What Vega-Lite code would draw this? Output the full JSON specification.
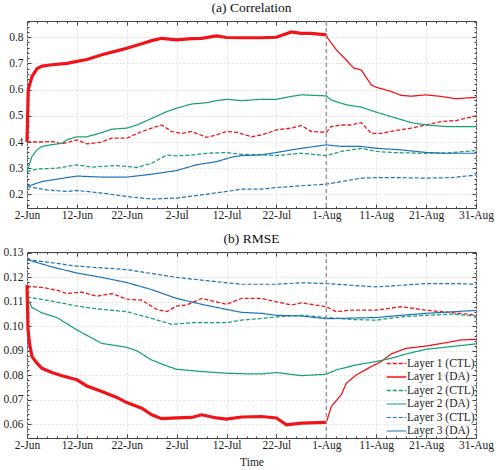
{
"$schema": "https://vega.github.io/schema/vega-lite/v6.json",
"padding": {"left": 2, "top": 0, "right": 4, "bottom": 0},
"spacing": 8,
"config": {
  "font": "Liberation Serif",
  "view": {"stroke": "#444", "strokeWidth": 1},
  "axis": {"labelFont": "Liberation Serif", "labelFontSize": 11.5, "labelColor": "#222", "titleFont": "Liberation Serif", "titleFontSize": 11.5, "titleFontWeight": "normal", "titleColor": "#222", "domain": false, "tickColor": "#444", "labelOverlap": false, "labelFlush": false, "gridColor": "#d9d9d9", "gridDash": [2, 2], "gridWidth": 0.8},
  "axisX": {"labelPadding": 5},
  "axisY": {"labelPadding": 8},
  "title": {"font": "Liberation Serif", "fontSize": 13.5, "fontWeight": "normal", "color": "#111", "offset": 1}
},
"datasets": {
"corr": [
{"series":"Layer 1 (DA)","date":"2023-06-02T00:00","value":0.40},
{"series":"Layer 1 (DA)","date":"2023-06-02T06:00","value":0.60},
{"series":"Layer 1 (DA)","date":"2023-06-03T00:00","value":0.65},
{"series":"Layer 1 (DA)","date":"2023-06-04T00:00","value":0.68},
{"series":"Layer 1 (DA)","date":"2023-06-05T00:00","value":0.69},
{"series":"Layer 1 (DA)","date":"2023-06-07T00:00","value":0.695},
{"series":"Layer 1 (DA)","date":"2023-06-10T00:00","value":0.70},
{"series":"Layer 1 (DA)","date":"2023-06-12T00:00","value":0.708},
{"series":"Layer 1 (DA)","date":"2023-06-14T00:00","value":0.715},
{"series":"Layer 1 (DA)","date":"2023-06-17T00:00","value":0.733},
{"series":"Layer 1 (DA)","date":"2023-06-20T00:00","value":0.748},
{"series":"Layer 1 (DA)","date":"2023-06-22T00:00","value":0.758},
{"series":"Layer 1 (DA)","date":"2023-06-25T00:00","value":0.775},
{"series":"Layer 1 (DA)","date":"2023-06-27T00:00","value":0.787},
{"series":"Layer 1 (DA)","date":"2023-06-29T00:00","value":0.796},
{"series":"Layer 1 (DA)","date":"2023-07-02T00:00","value":0.79},
{"series":"Layer 1 (DA)","date":"2023-07-05T00:00","value":0.795},
{"series":"Layer 1 (DA)","date":"2023-07-07T00:00","value":0.796},
{"series":"Layer 1 (DA)","date":"2023-07-10T00:00","value":0.805},
{"series":"Layer 1 (DA)","date":"2023-07-12T00:00","value":0.799},
{"series":"Layer 1 (DA)","date":"2023-07-15T00:00","value":0.798},
{"series":"Layer 1 (DA)","date":"2023-07-19T00:00","value":0.798},
{"series":"Layer 1 (DA)","date":"2023-07-22T00:00","value":0.80},
{"series":"Layer 1 (DA)","date":"2023-07-25T00:00","value":0.82},
{"series":"Layer 1 (DA)","date":"2023-07-27T00:00","value":0.815},
{"series":"Layer 1 (DA)","date":"2023-07-29T00:00","value":0.815},
{"series":"Layer 1 (DA)","date":"2023-08-01T00:00","value":0.809},
{"series":"Layer 1 (DA)","date":"2023-08-01T08:00","value":0.795},
{"series":"Layer 1 (DA)","date":"2023-08-03T00:00","value":0.752},
{"series":"Layer 1 (DA)","date":"2023-08-05T00:00","value":0.713},
{"series":"Layer 1 (DA)","date":"2023-08-06T12:00","value":0.682},
{"series":"Layer 1 (DA)","date":"2023-08-08T00:00","value":0.675},
{"series":"Layer 1 (DA)","date":"2023-08-10T00:00","value":0.618},
{"series":"Layer 1 (DA)","date":"2023-08-11T00:00","value":0.609},
{"series":"Layer 1 (DA)","date":"2023-08-14T00:00","value":0.593},
{"series":"Layer 1 (DA)","date":"2023-08-16T00:00","value":0.578},
{"series":"Layer 1 (DA)","date":"2023-08-18T00:00","value":0.575},
{"series":"Layer 1 (DA)","date":"2023-08-21T00:00","value":0.58},
{"series":"Layer 1 (DA)","date":"2023-08-24T00:00","value":0.574},
{"series":"Layer 1 (DA)","date":"2023-08-27T00:00","value":0.565},
{"series":"Layer 1 (DA)","date":"2023-08-29T00:00","value":0.568},
{"series":"Layer 1 (DA)","date":"2023-08-31T00:00","value":0.57},
{"series":"Layer 1 (CTL)","date":"2023-06-02T00:00","value":0.40},
{"series":"Layer 1 (CTL)","date":"2023-06-05T00:00","value":0.40},
{"series":"Layer 1 (CTL)","date":"2023-06-07T00:00","value":0.402},
{"series":"Layer 1 (CTL)","date":"2023-06-09T00:00","value":0.393},
{"series":"Layer 1 (CTL)","date":"2023-06-12T00:00","value":0.408},
{"series":"Layer 1 (CTL)","date":"2023-06-14T00:00","value":0.393},
{"series":"Layer 1 (CTL)","date":"2023-06-17T00:00","value":0.40},
{"series":"Layer 1 (CTL)","date":"2023-06-19T00:00","value":0.415},
{"series":"Layer 1 (CTL)","date":"2023-06-22T00:00","value":0.415},
{"series":"Layer 1 (CTL)","date":"2023-06-25T00:00","value":0.44},
{"series":"Layer 1 (CTL)","date":"2023-06-27T00:00","value":0.453},
{"series":"Layer 1 (CTL)","date":"2023-06-29T00:00","value":0.465},
{"series":"Layer 1 (CTL)","date":"2023-07-01T00:00","value":0.44},
{"series":"Layer 1 (CTL)","date":"2023-07-03T00:00","value":0.433},
{"series":"Layer 1 (CTL)","date":"2023-07-05T00:00","value":0.44},
{"series":"Layer 1 (CTL)","date":"2023-07-08T00:00","value":0.418},
{"series":"Layer 1 (CTL)","date":"2023-07-10T00:00","value":0.427},
{"series":"Layer 1 (CTL)","date":"2023-07-12T00:00","value":0.44},
{"series":"Layer 1 (CTL)","date":"2023-07-14T00:00","value":0.437},
{"series":"Layer 1 (CTL)","date":"2023-07-17T00:00","value":0.42},
{"series":"Layer 1 (CTL)","date":"2023-07-19T00:00","value":0.427},
{"series":"Layer 1 (CTL)","date":"2023-07-22T00:00","value":0.446},
{"series":"Layer 1 (CTL)","date":"2023-07-25T00:00","value":0.453},
{"series":"Layer 1 (CTL)","date":"2023-07-27T00:00","value":0.463},
{"series":"Layer 1 (CTL)","date":"2023-07-29T00:00","value":0.44},
{"series":"Layer 1 (CTL)","date":"2023-08-01T00:00","value":0.437},
{"series":"Layer 1 (CTL)","date":"2023-08-02T00:00","value":0.459},
{"series":"Layer 1 (CTL)","date":"2023-08-04T00:00","value":0.465},
{"series":"Layer 1 (CTL)","date":"2023-08-06T00:00","value":0.465},
{"series":"Layer 1 (CTL)","date":"2023-08-08T00:00","value":0.474},
{"series":"Layer 1 (CTL)","date":"2023-08-09T00:00","value":0.453},
{"series":"Layer 1 (CTL)","date":"2023-08-10T00:00","value":0.433},
{"series":"Layer 1 (CTL)","date":"2023-08-12T00:00","value":0.433},
{"series":"Layer 1 (CTL)","date":"2023-08-15T00:00","value":0.444},
{"series":"Layer 1 (CTL)","date":"2023-08-18T00:00","value":0.453},
{"series":"Layer 1 (CTL)","date":"2023-08-21T00:00","value":0.465},
{"series":"Layer 1 (CTL)","date":"2023-08-24T00:00","value":0.478},
{"series":"Layer 1 (CTL)","date":"2023-08-27T00:00","value":0.482},
{"series":"Layer 1 (CTL)","date":"2023-08-31T00:00","value":0.50},
{"series":"Layer 2 (DA)","date":"2023-06-02T00:00","value":0.287},
{"series":"Layer 2 (DA)","date":"2023-06-03T00:00","value":0.345},
{"series":"Layer 2 (DA)","date":"2023-06-04T00:00","value":0.37},
{"series":"Layer 2 (DA)","date":"2023-06-05T00:00","value":0.383},
{"series":"Layer 2 (DA)","date":"2023-06-07T00:00","value":0.39},
{"series":"Layer 2 (DA)","date":"2023-06-09T00:00","value":0.395},
{"series":"Layer 2 (DA)","date":"2023-06-10T00:00","value":0.408},
{"series":"Layer 2 (DA)","date":"2023-06-12T00:00","value":0.42},
{"series":"Layer 2 (DA)","date":"2023-06-14T00:00","value":0.42},
{"series":"Layer 2 (DA)","date":"2023-06-17T00:00","value":0.436},
{"series":"Layer 2 (DA)","date":"2023-06-19T00:00","value":0.449},
{"series":"Layer 2 (DA)","date":"2023-06-22T00:00","value":0.453},
{"series":"Layer 2 (DA)","date":"2023-06-24T00:00","value":0.465},
{"series":"Layer 2 (DA)","date":"2023-06-27T00:00","value":0.49},
{"series":"Layer 2 (DA)","date":"2023-06-30T00:00","value":0.516},
{"series":"Layer 2 (DA)","date":"2023-07-02T00:00","value":0.529},
{"series":"Layer 2 (DA)","date":"2023-07-05T00:00","value":0.545},
{"series":"Layer 2 (DA)","date":"2023-07-08T00:00","value":0.55},
{"series":"Layer 2 (DA)","date":"2023-07-10T00:00","value":0.558},
{"series":"Layer 2 (DA)","date":"2023-07-12T00:00","value":0.563},
{"series":"Layer 2 (DA)","date":"2023-07-15T00:00","value":0.558},
{"series":"Layer 2 (DA)","date":"2023-07-19T00:00","value":0.563},
{"series":"Layer 2 (DA)","date":"2023-07-22T00:00","value":0.563},
{"series":"Layer 2 (DA)","date":"2023-07-25T00:00","value":0.574},
{"series":"Layer 2 (DA)","date":"2023-07-27T00:00","value":0.58},
{"series":"Layer 2 (DA)","date":"2023-08-01T00:00","value":0.576},
{"series":"Layer 2 (DA)","date":"2023-08-02T00:00","value":0.56},
{"series":"Layer 2 (DA)","date":"2023-08-05T00:00","value":0.542},
{"series":"Layer 2 (DA)","date":"2023-08-08T00:00","value":0.533},
{"series":"Layer 2 (DA)","date":"2023-08-11T00:00","value":0.514},
{"series":"Layer 2 (DA)","date":"2023-08-14T00:00","value":0.497},
{"series":"Layer 2 (DA)","date":"2023-08-18T00:00","value":0.474},
{"series":"Layer 2 (DA)","date":"2023-08-21T00:00","value":0.465},
{"series":"Layer 2 (DA)","date":"2023-08-25T00:00","value":0.459},
{"series":"Layer 2 (DA)","date":"2023-08-31T00:00","value":0.459},
{"series":"Layer 2 (CTL)","date":"2023-06-02T00:00","value":0.287},
{"series":"Layer 2 (CTL)","date":"2023-06-04T00:00","value":0.297},
{"series":"Layer 2 (CTL)","date":"2023-06-08T00:00","value":0.30},
{"series":"Layer 2 (CTL)","date":"2023-06-12T00:00","value":0.313},
{"series":"Layer 2 (CTL)","date":"2023-06-15T00:00","value":0.304},
{"series":"Layer 2 (CTL)","date":"2023-06-20T00:00","value":0.31},
{"series":"Layer 2 (CTL)","date":"2023-06-24T00:00","value":0.303},
{"series":"Layer 2 (CTL)","date":"2023-06-27T00:00","value":0.319},
{"series":"Layer 2 (CTL)","date":"2023-06-30T00:00","value":0.35},
{"series":"Layer 2 (CTL)","date":"2023-07-02T00:00","value":0.347},
{"series":"Layer 2 (CTL)","date":"2023-07-05T00:00","value":0.35},
{"series":"Layer 2 (CTL)","date":"2023-07-08T00:00","value":0.357},
{"series":"Layer 2 (CTL)","date":"2023-07-12T00:00","value":0.36},
{"series":"Layer 2 (CTL)","date":"2023-07-15T00:00","value":0.353},
{"series":"Layer 2 (CTL)","date":"2023-07-19T00:00","value":0.351},
{"series":"Layer 2 (CTL)","date":"2023-07-22T00:00","value":0.348},
{"series":"Layer 2 (CTL)","date":"2023-07-27T00:00","value":0.357},
{"series":"Layer 2 (CTL)","date":"2023-08-01T00:00","value":0.348},
{"series":"Layer 2 (CTL)","date":"2023-08-04T00:00","value":0.364},
{"series":"Layer 2 (CTL)","date":"2023-08-08T00:00","value":0.376},
{"series":"Layer 2 (CTL)","date":"2023-08-11T00:00","value":0.364},
{"series":"Layer 2 (CTL)","date":"2023-08-14T00:00","value":0.36},
{"series":"Layer 2 (CTL)","date":"2023-08-21T00:00","value":0.357},
{"series":"Layer 2 (CTL)","date":"2023-08-25T00:00","value":0.358},
{"series":"Layer 2 (CTL)","date":"2023-08-31T00:00","value":0.367},
{"series":"Layer 3 (DA)","date":"2023-06-02T00:00","value":0.23},
{"series":"Layer 3 (DA)","date":"2023-06-05T00:00","value":0.249},
{"series":"Layer 3 (DA)","date":"2023-06-08T00:00","value":0.258},
{"series":"Layer 3 (DA)","date":"2023-06-12T00:00","value":0.27},
{"series":"Layer 3 (DA)","date":"2023-06-17T00:00","value":0.266},
{"series":"Layer 3 (DA)","date":"2023-06-22T00:00","value":0.266},
{"series":"Layer 3 (DA)","date":"2023-06-27T00:00","value":0.277},
{"series":"Layer 3 (DA)","date":"2023-07-02T00:00","value":0.291},
{"series":"Layer 3 (DA)","date":"2023-07-06T00:00","value":0.313},
{"series":"Layer 3 (DA)","date":"2023-07-10T00:00","value":0.325},
{"series":"Layer 3 (DA)","date":"2023-07-13T00:00","value":0.342},
{"series":"Layer 3 (DA)","date":"2023-07-15T00:00","value":0.348},
{"series":"Layer 3 (DA)","date":"2023-07-19T00:00","value":0.351},
{"series":"Layer 3 (DA)","date":"2023-07-22T00:00","value":0.36},
{"series":"Layer 3 (DA)","date":"2023-07-27T00:00","value":0.376},
{"series":"Layer 3 (DA)","date":"2023-08-01T00:00","value":0.389},
{"series":"Layer 3 (DA)","date":"2023-08-04T00:00","value":0.383},
{"series":"Layer 3 (DA)","date":"2023-08-08T00:00","value":0.383},
{"series":"Layer 3 (DA)","date":"2023-08-11T00:00","value":0.376},
{"series":"Layer 3 (DA)","date":"2023-08-16T00:00","value":0.37},
{"series":"Layer 3 (DA)","date":"2023-08-21T00:00","value":0.36},
{"series":"Layer 3 (DA)","date":"2023-08-25T00:00","value":0.357},
{"series":"Layer 3 (DA)","date":"2023-08-31T00:00","value":0.357},
{"series":"Layer 3 (CTL)","date":"2023-06-02T00:00","value":0.23},
{"series":"Layer 3 (CTL)","date":"2023-06-06T00:00","value":0.217},
{"series":"Layer 3 (CTL)","date":"2023-06-10T00:00","value":0.211},
{"series":"Layer 3 (CTL)","date":"2023-06-12T00:00","value":0.215},
{"series":"Layer 3 (CTL)","date":"2023-06-17T00:00","value":0.205},
{"series":"Layer 3 (CTL)","date":"2023-06-22T00:00","value":0.192},
{"series":"Layer 3 (CTL)","date":"2023-06-27T00:00","value":0.182},
{"series":"Layer 3 (CTL)","date":"2023-07-02T00:00","value":0.186},
{"series":"Layer 3 (CTL)","date":"2023-07-07T00:00","value":0.198},
{"series":"Layer 3 (CTL)","date":"2023-07-12T00:00","value":0.211},
{"series":"Layer 3 (CTL)","date":"2023-07-15T00:00","value":0.22},
{"series":"Layer 3 (CTL)","date":"2023-07-19T00:00","value":0.22},
{"series":"Layer 3 (CTL)","date":"2023-07-22T00:00","value":0.226},
{"series":"Layer 3 (CTL)","date":"2023-07-27T00:00","value":0.233},
{"series":"Layer 3 (CTL)","date":"2023-08-01T00:00","value":0.239},
{"series":"Layer 3 (CTL)","date":"2023-08-04T00:00","value":0.249},
{"series":"Layer 3 (CTL)","date":"2023-08-08T00:00","value":0.262},
{"series":"Layer 3 (CTL)","date":"2023-08-11T00:00","value":0.264},
{"series":"Layer 3 (CTL)","date":"2023-08-16T00:00","value":0.264},
{"series":"Layer 3 (CTL)","date":"2023-08-21T00:00","value":0.262},
{"series":"Layer 3 (CTL)","date":"2023-08-26T00:00","value":0.264},
{"series":"Layer 3 (CTL)","date":"2023-08-31T00:00","value":0.274}
],
"rmse": [
{"series":"Layer 1 (DA)","date":"2023-06-02T00:00","value":0.1168},
{"series":"Layer 1 (DA)","date":"2023-06-02T05:00","value":0.0985},
{"series":"Layer 1 (DA)","date":"2023-06-02T12:00","value":0.093},
{"series":"Layer 1 (DA)","date":"2023-06-03T00:00","value":0.0876},
{"series":"Layer 1 (DA)","date":"2023-06-04T00:00","value":0.0849},
{"series":"Layer 1 (DA)","date":"2023-06-05T00:00","value":0.0828},
{"series":"Layer 1 (DA)","date":"2023-06-07T00:00","value":0.0811},
{"series":"Layer 1 (DA)","date":"2023-06-09T00:00","value":0.0798},
{"series":"Layer 1 (DA)","date":"2023-06-12T00:00","value":0.0781},
{"series":"Layer 1 (DA)","date":"2023-06-14T00:00","value":0.0756},
{"series":"Layer 1 (DA)","date":"2023-06-17T00:00","value":0.0733},
{"series":"Layer 1 (DA)","date":"2023-06-20T00:00","value":0.0709},
{"series":"Layer 1 (DA)","date":"2023-06-22T00:00","value":0.0688},
{"series":"Layer 1 (DA)","date":"2023-06-25T00:00","value":0.0665},
{"series":"Layer 1 (DA)","date":"2023-06-27T00:00","value":0.0638},
{"series":"Layer 1 (DA)","date":"2023-06-29T00:00","value":0.0622},
{"series":"Layer 1 (DA)","date":"2023-07-02T00:00","value":0.0625},
{"series":"Layer 1 (DA)","date":"2023-07-05T00:00","value":0.0627},
{"series":"Layer 1 (DA)","date":"2023-07-07T00:00","value":0.0638},
{"series":"Layer 1 (DA)","date":"2023-07-10T00:00","value":0.0625},
{"series":"Layer 1 (DA)","date":"2023-07-12T00:00","value":0.0620},
{"series":"Layer 1 (DA)","date":"2023-07-15T00:00","value":0.0629},
{"series":"Layer 1 (DA)","date":"2023-07-19T00:00","value":0.0631},
{"series":"Layer 1 (DA)","date":"2023-07-22T00:00","value":0.0625},
{"series":"Layer 1 (DA)","date":"2023-07-24T00:00","value":0.0597},
{"series":"Layer 1 (DA)","date":"2023-07-27T00:00","value":0.0604},
{"series":"Layer 1 (DA)","date":"2023-08-01T00:00","value":0.0607},
{"series":"Layer 1 (DA)","date":"2023-08-02T00:00","value":0.0672},
{"series":"Layer 1 (DA)","date":"2023-08-04T00:00","value":0.072},
{"series":"Layer 1 (DA)","date":"2023-08-05T00:00","value":0.0767},
{"series":"Layer 1 (DA)","date":"2023-08-07T00:00","value":0.0801},
{"series":"Layer 1 (DA)","date":"2023-08-10T00:00","value":0.0835},
{"series":"Layer 1 (DA)","date":"2023-08-12T00:00","value":0.0856},
{"series":"Layer 1 (DA)","date":"2023-08-14T00:00","value":0.0887},
{"series":"Layer 1 (DA)","date":"2023-08-17T00:00","value":0.091},
{"series":"Layer 1 (DA)","date":"2023-08-21T00:00","value":0.0919},
{"series":"Layer 1 (DA)","date":"2023-08-25T00:00","value":0.0933},
{"series":"Layer 1 (DA)","date":"2023-08-28T00:00","value":0.0944},
{"series":"Layer 1 (DA)","date":"2023-08-31T00:00","value":0.0947},
{"series":"Layer 1 (CTL)","date":"2023-06-02T00:00","value":0.1164},
{"series":"Layer 1 (CTL)","date":"2023-06-05T00:00","value":0.1159},
{"series":"Layer 1 (CTL)","date":"2023-06-08T00:00","value":0.1148},
{"series":"Layer 1 (CTL)","date":"2023-06-10T00:00","value":0.1134},
{"series":"Layer 1 (CTL)","date":"2023-06-13T00:00","value":0.114},
{"series":"Layer 1 (CTL)","date":"2023-06-16T00:00","value":0.1123},
{"series":"Layer 1 (CTL)","date":"2023-06-19T00:00","value":0.1134},
{"series":"Layer 1 (CTL)","date":"2023-06-22T00:00","value":0.1111},
{"series":"Layer 1 (CTL)","date":"2023-06-25T00:00","value":0.1107},
{"series":"Layer 1 (CTL)","date":"2023-06-28T00:00","value":0.1069},
{"series":"Layer 1 (CTL)","date":"2023-06-30T00:00","value":0.106},
{"series":"Layer 1 (CTL)","date":"2023-07-02T00:00","value":0.1083},
{"series":"Layer 1 (CTL)","date":"2023-07-04T00:00","value":0.1087},
{"series":"Layer 1 (CTL)","date":"2023-07-07T00:00","value":0.1114},
{"series":"Layer 1 (CTL)","date":"2023-07-10T00:00","value":0.11},
{"series":"Layer 1 (CTL)","date":"2023-07-12T00:00","value":0.109},
{"series":"Layer 1 (CTL)","date":"2023-07-15T00:00","value":0.1114},
{"series":"Layer 1 (CTL)","date":"2023-07-19T00:00","value":0.1114},
{"series":"Layer 1 (CTL)","date":"2023-07-22T00:00","value":0.11},
{"series":"Layer 1 (CTL)","date":"2023-07-25T00:00","value":0.1087},
{"series":"Layer 1 (CTL)","date":"2023-07-27T00:00","value":0.1096},
{"series":"Layer 1 (CTL)","date":"2023-08-01T00:00","value":0.108},
{"series":"Layer 1 (CTL)","date":"2023-08-03T00:00","value":0.106},
{"series":"Layer 1 (CTL)","date":"2023-08-06T00:00","value":0.1066},
{"series":"Layer 1 (CTL)","date":"2023-08-11T00:00","value":0.1066},
{"series":"Layer 1 (CTL)","date":"2023-08-16T00:00","value":0.108},
{"series":"Layer 1 (CTL)","date":"2023-08-21T00:00","value":0.1066},
{"series":"Layer 1 (CTL)","date":"2023-08-24T00:00","value":0.106},
{"series":"Layer 1 (CTL)","date":"2023-08-31T00:00","value":0.1046},
{"series":"Layer 2 (DA)","date":"2023-06-02T00:00","value":0.112},
{"series":"Layer 2 (DA)","date":"2023-06-03T00:00","value":0.1077},
{"series":"Layer 2 (DA)","date":"2023-06-05T00:00","value":0.1055},
{"series":"Layer 2 (DA)","date":"2023-06-08T00:00","value":0.1036},
{"series":"Layer 2 (DA)","date":"2023-06-12T00:00","value":0.0985},
{"series":"Layer 2 (DA)","date":"2023-06-17T00:00","value":0.093},
{"series":"Layer 2 (DA)","date":"2023-06-22T00:00","value":0.0914},
{"series":"Layer 2 (DA)","date":"2023-06-24T00:00","value":0.090},
{"series":"Layer 2 (DA)","date":"2023-06-27T00:00","value":0.0862},
{"series":"Layer 2 (DA)","date":"2023-06-30T00:00","value":0.0838},
{"series":"Layer 2 (DA)","date":"2023-07-02T00:00","value":0.0824},
{"series":"Layer 2 (DA)","date":"2023-07-07T00:00","value":0.0815},
{"series":"Layer 2 (DA)","date":"2023-07-12T00:00","value":0.0808},
{"series":"Layer 2 (DA)","date":"2023-07-17T00:00","value":0.0805},
{"series":"Layer 2 (DA)","date":"2023-07-19T00:00","value":0.0805},
{"series":"Layer 2 (DA)","date":"2023-07-22T00:00","value":0.0811},
{"series":"Layer 2 (DA)","date":"2023-07-27T00:00","value":0.0798},
{"series":"Layer 2 (DA)","date":"2023-08-01T00:00","value":0.0804},
{"series":"Layer 2 (DA)","date":"2023-08-03T00:00","value":0.0822},
{"series":"Layer 2 (DA)","date":"2023-08-07T00:00","value":0.0842},
{"series":"Layer 2 (DA)","date":"2023-08-11T00:00","value":0.0856},
{"series":"Layer 2 (DA)","date":"2023-08-14T00:00","value":0.0869},
{"series":"Layer 2 (DA)","date":"2023-08-17T00:00","value":0.0887},
{"series":"Layer 2 (DA)","date":"2023-08-21T00:00","value":0.0906},
{"series":"Layer 2 (DA)","date":"2023-08-26T00:00","value":0.0917},
{"series":"Layer 2 (DA)","date":"2023-08-31T00:00","value":0.0928},
{"series":"Layer 2 (CTL)","date":"2023-06-02T00:00","value":0.112},
{"series":"Layer 2 (CTL)","date":"2023-06-07T00:00","value":0.1103},
{"series":"Layer 2 (CTL)","date":"2023-06-12T00:00","value":0.1083},
{"series":"Layer 2 (CTL)","date":"2023-06-17T00:00","value":0.1069},
{"series":"Layer 2 (CTL)","date":"2023-06-22T00:00","value":0.106},
{"series":"Layer 2 (CTL)","date":"2023-06-27T00:00","value":0.1032},
{"series":"Layer 2 (CTL)","date":"2023-07-01T00:00","value":0.1008},
{"series":"Layer 2 (CTL)","date":"2023-07-05T00:00","value":0.1015},
{"series":"Layer 2 (CTL)","date":"2023-07-12T00:00","value":0.1015},
{"series":"Layer 2 (CTL)","date":"2023-07-15T00:00","value":0.1025},
{"series":"Layer 2 (CTL)","date":"2023-07-19T00:00","value":0.1032},
{"series":"Layer 2 (CTL)","date":"2023-07-22T00:00","value":0.1039},
{"series":"Layer 2 (CTL)","date":"2023-07-27T00:00","value":0.1045},
{"series":"Layer 2 (CTL)","date":"2023-08-01T00:00","value":0.1036},
{"series":"Layer 2 (CTL)","date":"2023-08-06T00:00","value":0.1028},
{"series":"Layer 2 (CTL)","date":"2023-08-11T00:00","value":0.1025},
{"series":"Layer 2 (CTL)","date":"2023-08-16T00:00","value":0.1039},
{"series":"Layer 2 (CTL)","date":"2023-08-21T00:00","value":0.1045},
{"series":"Layer 2 (CTL)","date":"2023-08-26T00:00","value":0.105},
{"series":"Layer 2 (CTL)","date":"2023-08-31T00:00","value":0.1042},
{"series":"Layer 3 (DA)","date":"2023-06-02T00:00","value":0.1273},
{"series":"Layer 3 (DA)","date":"2023-06-07T00:00","value":0.1243},
{"series":"Layer 3 (DA)","date":"2023-06-12T00:00","value":0.1218},
{"series":"Layer 3 (DA)","date":"2023-06-17T00:00","value":0.12},
{"series":"Layer 3 (DA)","date":"2023-06-22T00:00","value":0.1179},
{"series":"Layer 3 (DA)","date":"2023-06-27T00:00","value":0.115},
{"series":"Layer 3 (DA)","date":"2023-07-02T00:00","value":0.1114},
{"series":"Layer 3 (DA)","date":"2023-07-07T00:00","value":0.109},
{"series":"Layer 3 (DA)","date":"2023-07-12T00:00","value":0.1069},
{"series":"Layer 3 (DA)","date":"2023-07-15T00:00","value":0.1057},
{"series":"Layer 3 (DA)","date":"2023-07-19T00:00","value":0.1053},
{"series":"Layer 3 (DA)","date":"2023-07-22T00:00","value":0.1045},
{"series":"Layer 3 (DA)","date":"2023-07-27T00:00","value":0.1042},
{"series":"Layer 3 (DA)","date":"2023-08-01T00:00","value":0.1031},
{"series":"Layer 3 (DA)","date":"2023-08-05T00:00","value":0.1033},
{"series":"Layer 3 (DA)","date":"2023-08-11T00:00","value":0.1036},
{"series":"Layer 3 (DA)","date":"2023-08-16T00:00","value":0.1045},
{"series":"Layer 3 (DA)","date":"2023-08-21T00:00","value":0.1053},
{"series":"Layer 3 (DA)","date":"2023-08-26T00:00","value":0.1059},
{"series":"Layer 3 (DA)","date":"2023-08-31T00:00","value":0.1065},
{"series":"Layer 3 (CTL)","date":"2023-06-02T00:00","value":0.1273},
{"series":"Layer 3 (CTL)","date":"2023-06-07T00:00","value":0.126},
{"series":"Layer 3 (CTL)","date":"2023-06-12T00:00","value":0.1246},
{"series":"Layer 3 (CTL)","date":"2023-06-17T00:00","value":0.1239},
{"series":"Layer 3 (CTL)","date":"2023-06-22T00:00","value":0.1232},
{"series":"Layer 3 (CTL)","date":"2023-06-27T00:00","value":0.1216},
{"series":"Layer 3 (CTL)","date":"2023-07-02T00:00","value":0.12},
{"series":"Layer 3 (CTL)","date":"2023-07-07T00:00","value":0.1189},
{"series":"Layer 3 (CTL)","date":"2023-07-12T00:00","value":0.1178},
{"series":"Layer 3 (CTL)","date":"2023-07-15T00:00","value":0.1172},
{"series":"Layer 3 (CTL)","date":"2023-07-19T00:00","value":0.1172},
{"series":"Layer 3 (CTL)","date":"2023-07-22T00:00","value":0.1172},
{"series":"Layer 3 (CTL)","date":"2023-07-27T00:00","value":0.1178},
{"series":"Layer 3 (CTL)","date":"2023-08-01T00:00","value":0.1175},
{"series":"Layer 3 (CTL)","date":"2023-08-06T00:00","value":0.1168},
{"series":"Layer 3 (CTL)","date":"2023-08-11T00:00","value":0.1161},
{"series":"Layer 3 (CTL)","date":"2023-08-16T00:00","value":0.1168},
{"series":"Layer 3 (CTL)","date":"2023-08-21T00:00","value":0.1175},
{"series":"Layer 3 (CTL)","date":"2023-08-26T00:00","value":0.1175},
{"series":"Layer 3 (CTL)","date":"2023-08-31T00:00","value":0.1172}
]
},
"resolve": {"scale": {"color": "independent", "strokeDash": "independent", "strokeWidth": "independent"}, "legend": {"color": "independent", "strokeDash": "independent"}},
"vconcat": [
{
  "title": {"text": "(a) Correlation"},
  "width": 449, "height": 187,
  "data": {"name": "corr"},
  "resolve": {"axis": {"x": "independent", "y": "independent"}},
  "layer": [
    {
      "mark": {"type": "line"},
      "encoding": {
        "x": {"field": "date", "type": "temporal", "scale": {"domain": [{"year": 2023, "month": 6, "date": 2}, {"year": 2023, "month": 8, "date": 31}], "nice": false}, "axis": {"title": null, "format": "%-d-%b", "labelOverlap": false,
          "values": [{"year":2023,"month":6,"date":2},{"year":2023,"month":6,"date":4},{"year":2023,"month":6,"date":6},{"year":2023,"month":6,"date":8},{"year":2023,"month":6,"date":10},{"year":2023,"month":6,"date":12},{"year":2023,"month":6,"date":14},{"year":2023,"month":6,"date":16},{"year":2023,"month":6,"date":18},{"year":2023,"month":6,"date":20},{"year":2023,"month":6,"date":22},{"year":2023,"month":6,"date":24},{"year":2023,"month":6,"date":26},{"year":2023,"month":6,"date":28},{"year":2023,"month":6,"date":30},{"year":2023,"month":7,"date":2},{"year":2023,"month":7,"date":4},{"year":2023,"month":7,"date":6},{"year":2023,"month":7,"date":8},{"year":2023,"month":7,"date":10},{"year":2023,"month":7,"date":12},{"year":2023,"month":7,"date":14},{"year":2023,"month":7,"date":16},{"year":2023,"month":7,"date":18},{"year":2023,"month":7,"date":20},{"year":2023,"month":7,"date":22},{"year":2023,"month":7,"date":24},{"year":2023,"month":7,"date":26},{"year":2023,"month":7,"date":28},{"year":2023,"month":7,"date":30},{"year":2023,"month":8,"date":1},{"year":2023,"month":8,"date":3},{"year":2023,"month":8,"date":5},{"year":2023,"month":8,"date":7},{"year":2023,"month":8,"date":9},{"year":2023,"month":8,"date":11},{"year":2023,"month":8,"date":13},{"year":2023,"month":8,"date":15},{"year":2023,"month":8,"date":17},{"year":2023,"month":8,"date":19},{"year":2023,"month":8,"date":21},{"year":2023,"month":8,"date":23},{"year":2023,"month":8,"date":25},{"year":2023,"month":8,"date":27},{"year":2023,"month":8,"date":29},{"year":2023,"month":8,"date":31}],
          "labelExpr": "round((datum.value - time(datetime(2023,5,2))) / 86400000) % 10 == 0 ? datum.label : ''",
          "tickSize": {"condition": {"test": "round((datum.value - time(datetime(2023,5,2))) / 86400000) % 10 == 0", "value": -4}, "value": -2},
          "gridOpacity": {"condition": {"test": "round((datum.value - time(datetime(2023,5,2))) / 86400000) % 10 == 0", "value": 1}, "value": 0}}},
        "y": {"field": "value", "type": "quantitative", "scale": {"domain": [0.148, 0.862], "nice": false, "zero": false}, "axis": {"title": null, "format": ".1f", "labelOverlap": false,
          "values": [0.16, 0.18, 0.2, 0.22, 0.24, 0.26, 0.28, 0.3, 0.32, 0.34, 0.36, 0.38, 0.4, 0.42, 0.44, 0.46, 0.48, 0.5, 0.52, 0.54, 0.56, 0.58, 0.6, 0.62, 0.64, 0.66, 0.68, 0.7, 0.72, 0.74, 0.76, 0.78, 0.8, 0.82, 0.84, 0.86],
          "labelExpr": "abs(datum.value*10 - round(datum.value*10)) < 0.001 ? datum.label : ''",
          "tickSize": {"condition": {"test": "abs(datum.value*10 - round(datum.value*10)) < 0.001", "value": -4}, "value": -2},
          "gridOpacity": {"condition": {"test": "abs(datum.value*10 - round(datum.value*10)) < 0.001", "value": 1}, "value": 0}}},
        "color": {"field": "series", "type": "nominal", "scale": {"domain": ["Layer 1 (CTL)", "Layer 1 (DA)", "Layer 2 (CTL)", "Layer 2 (DA)", "Layer 3 (CTL)", "Layer 3 (DA)"], "range": ["#f0141a", "#f0141a", "#17a077", "#17a077", "#1f72b8", "#1f72b8"]}, "legend": null},
        "strokeDash": {"field": "series", "type": "nominal", "scale": {"domain": ["Layer 1 (CTL)", "Layer 1 (DA)", "Layer 2 (CTL)", "Layer 2 (DA)", "Layer 3 (CTL)", "Layer 3 (DA)"], "range": [[4, 2], [1, 0], [4, 2], [1, 0], [4, 2], [1, 0]]}, "legend": null},
        "strokeWidth": {"field": "series", "type": "nominal", "scale": {"domain": ["Layer 1 (CTL)", "Layer 1 (DA)", "Layer 2 (CTL)", "Layer 2 (DA)", "Layer 3 (CTL)", "Layer 3 (DA)"], "range": [1.3, 1.2, 1.3, 2, 1.3, 2]}, "legend": null}
      }
    },
    {
      "transform": [{"filter": {"and": [{"field": "series", "equal": "Layer 1 (DA)"}, {"field": "date", "lte": {"year": 2023, "month": 8, "date": 1, "hours": 6}}]}}],
      "mark": {"type": "line", "color": "#f0141a", "strokeWidth": 3.2},
      "encoding": {
        "x": {"field": "date", "type": "temporal", "axis": {"orient": "top", "title": null, "labels": false, "grid": false, "minExtent": 0, "maxExtent": 0,
          "values": [{"year":2023,"month":6,"date":2},{"year":2023,"month":6,"date":4},{"year":2023,"month":6,"date":6},{"year":2023,"month":6,"date":8},{"year":2023,"month":6,"date":10},{"year":2023,"month":6,"date":12},{"year":2023,"month":6,"date":14},{"year":2023,"month":6,"date":16},{"year":2023,"month":6,"date":18},{"year":2023,"month":6,"date":20},{"year":2023,"month":6,"date":22},{"year":2023,"month":6,"date":24},{"year":2023,"month":6,"date":26},{"year":2023,"month":6,"date":28},{"year":2023,"month":6,"date":30},{"year":2023,"month":7,"date":2},{"year":2023,"month":7,"date":4},{"year":2023,"month":7,"date":6},{"year":2023,"month":7,"date":8},{"year":2023,"month":7,"date":10},{"year":2023,"month":7,"date":12},{"year":2023,"month":7,"date":14},{"year":2023,"month":7,"date":16},{"year":2023,"month":7,"date":18},{"year":2023,"month":7,"date":20},{"year":2023,"month":7,"date":22},{"year":2023,"month":7,"date":24},{"year":2023,"month":7,"date":26},{"year":2023,"month":7,"date":28},{"year":2023,"month":7,"date":30},{"year":2023,"month":8,"date":1},{"year":2023,"month":8,"date":3},{"year":2023,"month":8,"date":5},{"year":2023,"month":8,"date":7},{"year":2023,"month":8,"date":9},{"year":2023,"month":8,"date":11},{"year":2023,"month":8,"date":13},{"year":2023,"month":8,"date":15},{"year":2023,"month":8,"date":17},{"year":2023,"month":8,"date":19},{"year":2023,"month":8,"date":21},{"year":2023,"month":8,"date":23},{"year":2023,"month":8,"date":25},{"year":2023,"month":8,"date":27},{"year":2023,"month":8,"date":29},{"year":2023,"month":8,"date":31}],
          "tickSize": {"condition": {"test": "round((datum.value - time(datetime(2023,5,2))) / 86400000) % 10 == 0", "value": -4}, "value": -2}}},
        "y": {"field": "value", "type": "quantitative", "axis": {"orient": "right", "title": null, "labels": false, "grid": false, "minExtent": 0, "maxExtent": 0,
          "values": [0.16, 0.18, 0.2, 0.22, 0.24, 0.26, 0.28, 0.3, 0.32, 0.34, 0.36, 0.38, 0.4, 0.42, 0.44, 0.46, 0.48, 0.5, 0.52, 0.54, 0.56, 0.58, 0.6, 0.62, 0.64, 0.66, 0.68, 0.7, 0.72, 0.74, 0.76, 0.78, 0.8, 0.82, 0.84, 0.86],
          "tickSize": {"condition": {"test": "abs(datum.value*10 - round(datum.value*10)) < 0.001", "value": -4}, "value": -2}}}
      }
    },
    {
      "data": {"values": [{"event": "switch"}]},
      "mark": {"type": "rule", "color": "#999", "strokeDash": [4, 3], "strokeWidth": 1.5},
      "encoding": {"x": {"datum": {"year": 2023, "month": 8, "date": 1}, "type": "temporal", "axis": null}}
    }
  ]
},
{
  "title": {"text": "(b) RMSE"},
  "width": 449, "height": 186,
  "data": {"name": "rmse"},
  "resolve": {"axis": {"x": "independent", "y": "independent"}},
  "layer": [
    {
      "mark": {"type": "line"},
      "encoding": {
        "x": {"field": "date", "type": "temporal", "scale": {"domain": [{"year": 2023, "month": 6, "date": 2}, {"year": 2023, "month": 8, "date": 31}], "nice": false}, "axis": {"title": "Time", "titlePadding": 4, "format": "%-d-%b", "labelOverlap": false,
          "values": [{"year":2023,"month":6,"date":2},{"year":2023,"month":6,"date":4},{"year":2023,"month":6,"date":6},{"year":2023,"month":6,"date":8},{"year":2023,"month":6,"date":10},{"year":2023,"month":6,"date":12},{"year":2023,"month":6,"date":14},{"year":2023,"month":6,"date":16},{"year":2023,"month":6,"date":18},{"year":2023,"month":6,"date":20},{"year":2023,"month":6,"date":22},{"year":2023,"month":6,"date":24},{"year":2023,"month":6,"date":26},{"year":2023,"month":6,"date":28},{"year":2023,"month":6,"date":30},{"year":2023,"month":7,"date":2},{"year":2023,"month":7,"date":4},{"year":2023,"month":7,"date":6},{"year":2023,"month":7,"date":8},{"year":2023,"month":7,"date":10},{"year":2023,"month":7,"date":12},{"year":2023,"month":7,"date":14},{"year":2023,"month":7,"date":16},{"year":2023,"month":7,"date":18},{"year":2023,"month":7,"date":20},{"year":2023,"month":7,"date":22},{"year":2023,"month":7,"date":24},{"year":2023,"month":7,"date":26},{"year":2023,"month":7,"date":28},{"year":2023,"month":7,"date":30},{"year":2023,"month":8,"date":1},{"year":2023,"month":8,"date":3},{"year":2023,"month":8,"date":5},{"year":2023,"month":8,"date":7},{"year":2023,"month":8,"date":9},{"year":2023,"month":8,"date":11},{"year":2023,"month":8,"date":13},{"year":2023,"month":8,"date":15},{"year":2023,"month":8,"date":17},{"year":2023,"month":8,"date":19},{"year":2023,"month":8,"date":21},{"year":2023,"month":8,"date":23},{"year":2023,"month":8,"date":25},{"year":2023,"month":8,"date":27},{"year":2023,"month":8,"date":29},{"year":2023,"month":8,"date":31}],
          "labelExpr": "round((datum.value - time(datetime(2023,5,2))) / 86400000) % 10 == 0 ? datum.label : ''",
          "tickSize": {"condition": {"test": "round((datum.value - time(datetime(2023,5,2))) / 86400000) % 10 == 0", "value": -4}, "value": -2},
          "gridOpacity": {"condition": {"test": "round((datum.value - time(datetime(2023,5,2))) / 86400000) % 10 == 0", "value": 1}, "value": 0}}},
        "y": {"field": "value", "type": "quantitative", "scale": {"domain": [0.0543, 0.1304], "nice": false, "zero": false}, "axis": {"title": null, "format": ".2f", "labelOverlap": false,
          "values": [0.056, 0.058, 0.06, 0.062, 0.064, 0.066, 0.068, 0.07, 0.072, 0.074, 0.076, 0.078, 0.08, 0.082, 0.084, 0.086, 0.088, 0.09, 0.092, 0.094, 0.096, 0.098, 0.1, 0.102, 0.104, 0.106, 0.108, 0.11, 0.112, 0.114, 0.116, 0.118, 0.12, 0.122, 0.124, 0.126, 0.128, 0.13],
          "labelExpr": "abs(datum.value*100 - round(datum.value*100)) < 0.001 ? datum.label : ''",
          "tickSize": {"condition": {"test": "abs(datum.value*100 - round(datum.value*100)) < 0.001", "value": -4}, "value": -2},
          "gridOpacity": {"condition": {"test": "abs(datum.value*100 - round(datum.value*100)) < 0.001", "value": 1}, "value": 0}}},
        "color": {"field": "series", "type": "nominal", "title": null, "scale": {"domain": ["Layer 1 (CTL)", "Layer 1 (DA)", "Layer 2 (CTL)", "Layer 2 (DA)", "Layer 3 (CTL)", "Layer 3 (DA)"], "range": ["#f0141a", "#f0141a", "#17a077", "#17a077", "#1f72b8", "#1f72b8"]}, "legend": {"orient": "bottom-right", "offset": 1, "symbolType": "M-1.5,0H1.5", "symbolSize": 169, "symbolStrokeWidth": 2.2, "labelFont": "Liberation Serif", "labelFontSize": 11.5, "labelColor": "#222", "rowPadding": 0.5, "labelOffset": 3, "padding": 0}},
        "strokeDash": {"field": "series", "type": "nominal", "title": null, "scale": {"domain": ["Layer 1 (CTL)", "Layer 1 (DA)", "Layer 2 (CTL)", "Layer 2 (DA)", "Layer 3 (CTL)", "Layer 3 (DA)"], "range": [[4, 2], [1, 0], [4, 2], [1, 0], [4, 2], [1, 0]]}, "legend": {"orient": "bottom-right", "offset": 1, "symbolType": "M-1.5,0H1.5", "symbolSize": 169, "symbolStrokeWidth": 2.2, "labelFont": "Liberation Serif", "labelFontSize": 11.5, "labelColor": "#222", "rowPadding": 0.5, "labelOffset": 3, "padding": 0}},
        "strokeWidth": {"field": "series", "type": "nominal", "scale": {"domain": ["Layer 1 (CTL)", "Layer 1 (DA)", "Layer 2 (CTL)", "Layer 2 (DA)", "Layer 3 (CTL)", "Layer 3 (DA)"], "range": [1.3, 1.2, 1.3, 2, 1.3, 2]}, "legend": null}
      }
    },
    {
      "transform": [{"filter": {"and": [{"field": "series", "equal": "Layer 1 (DA)"}, {"field": "date", "lte": {"year": 2023, "month": 8, "date": 1, "hours": 6}}]}}],
      "mark": {"type": "line", "color": "#f0141a", "strokeWidth": 3.2},
      "encoding": {
        "x": {"field": "date", "type": "temporal", "axis": {"orient": "top", "title": null, "labels": false, "grid": false, "minExtent": 0, "maxExtent": 0,
          "values": [{"year":2023,"month":6,"date":2},{"year":2023,"month":6,"date":4},{"year":2023,"month":6,"date":6},{"year":2023,"month":6,"date":8},{"year":2023,"month":6,"date":10},{"year":2023,"month":6,"date":12},{"year":2023,"month":6,"date":14},{"year":2023,"month":6,"date":16},{"year":2023,"month":6,"date":18},{"year":2023,"month":6,"date":20},{"year":2023,"month":6,"date":22},{"year":2023,"month":6,"date":24},{"year":2023,"month":6,"date":26},{"year":2023,"month":6,"date":28},{"year":2023,"month":6,"date":30},{"year":2023,"month":7,"date":2},{"year":2023,"month":7,"date":4},{"year":2023,"month":7,"date":6},{"year":2023,"month":7,"date":8},{"year":2023,"month":7,"date":10},{"year":2023,"month":7,"date":12},{"year":2023,"month":7,"date":14},{"year":2023,"month":7,"date":16},{"year":2023,"month":7,"date":18},{"year":2023,"month":7,"date":20},{"year":2023,"month":7,"date":22},{"year":2023,"month":7,"date":24},{"year":2023,"month":7,"date":26},{"year":2023,"month":7,"date":28},{"year":2023,"month":7,"date":30},{"year":2023,"month":8,"date":1},{"year":2023,"month":8,"date":3},{"year":2023,"month":8,"date":5},{"year":2023,"month":8,"date":7},{"year":2023,"month":8,"date":9},{"year":2023,"month":8,"date":11},{"year":2023,"month":8,"date":13},{"year":2023,"month":8,"date":15},{"year":2023,"month":8,"date":17},{"year":2023,"month":8,"date":19},{"year":2023,"month":8,"date":21},{"year":2023,"month":8,"date":23},{"year":2023,"month":8,"date":25},{"year":2023,"month":8,"date":27},{"year":2023,"month":8,"date":29},{"year":2023,"month":8,"date":31}],
          "tickSize": {"condition": {"test": "round((datum.value - time(datetime(2023,5,2))) / 86400000) % 10 == 0", "value": -4}, "value": -2}}},
        "y": {"field": "value", "type": "quantitative", "axis": {"orient": "right", "title": null, "labels": false, "grid": false, "minExtent": 0, "maxExtent": 0,
          "values": [0.056, 0.058, 0.06, 0.062, 0.064, 0.066, 0.068, 0.07, 0.072, 0.074, 0.076, 0.078, 0.08, 0.082, 0.084, 0.086, 0.088, 0.09, 0.092, 0.094, 0.096, 0.098, 0.1, 0.102, 0.104, 0.106, 0.108, 0.11, 0.112, 0.114, 0.116, 0.118, 0.12, 0.122, 0.124, 0.126, 0.128, 0.13],
          "tickSize": {"condition": {"test": "abs(datum.value*100 - round(datum.value*100)) < 0.001", "value": -4}, "value": -2}}}
      }
    },
    {
      "data": {"values": [{"event": "switch"}]},
      "mark": {"type": "rule", "color": "#999", "strokeDash": [4, 3], "strokeWidth": 1.5},
      "encoding": {"x": {"datum": {"year": 2023, "month": 8, "date": 1}, "type": "temporal", "axis": null}}
    }
  ]
}
]
}
